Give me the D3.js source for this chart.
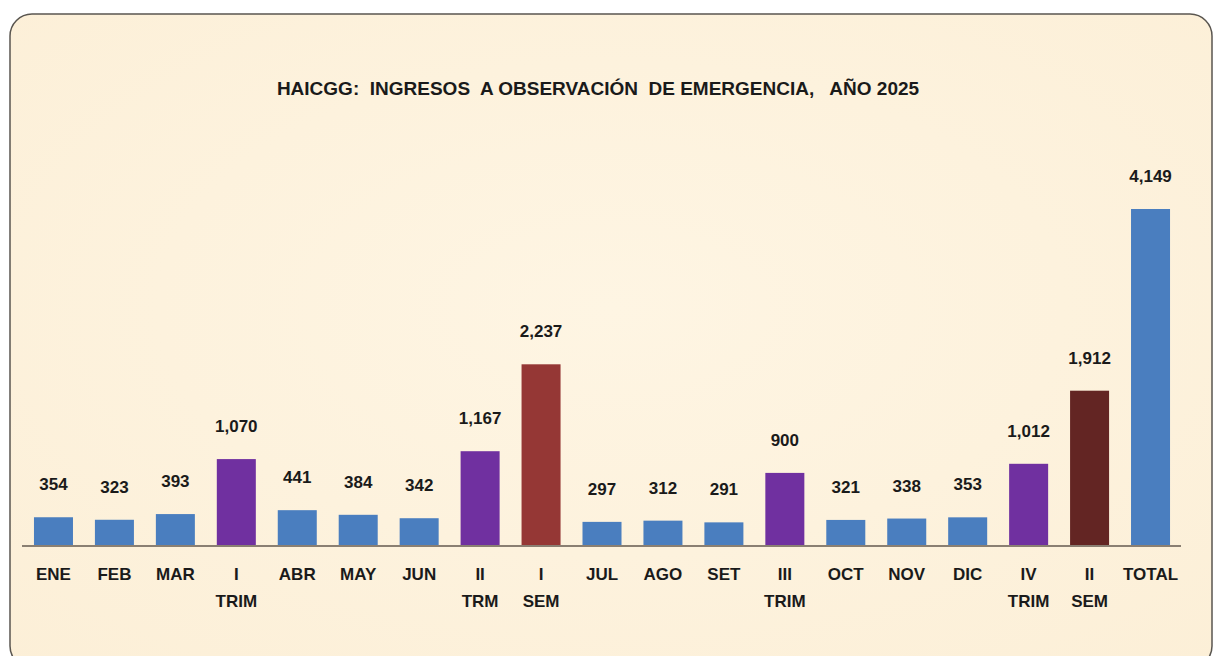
<!DOCTYPE html>
<html>
<head>
<meta charset="utf-8">
<script src="https://cdn.jsdelivr.net/npm/d3@7"></script>
<style>
  body { margin: 0; background: #fff; }
  svg { display: block; }
  text { font-family: "Liberation Sans Narrow", "Arial Narrow", sans-serif; font-weight: bold; fill: #1a1a1a; }
</style>
</head>
<body>
<svg id="chart"></svg>
<script>
// chart data
var title = "HAICGG:  INGRESOS  A OBSERVACIÓN  DE EMERGENCIA,   AÑO 2025";
var labels = ["ENE", "FEB", "MAR", "I|TRIM", "ABR", "MAY", "JUN", "II|TRM", "I|SEM",
  "JUL", "AGO", "SET", "III|TRIM", "OCT", "NOV", "DIC", "IV|TRIM", "II|SEM", "TOTAL"];
var values = [354, 323, 393, 1070, 441, 384, 342, 1167, 2237,
  297, 312, 291, 900, 321, 338, 353, 1012, 1912, 4149];
// m = month, t = trimester, s1 / s2 = semester, tot = total
var kinds = ["m", "m", "m", "t", "m", "m", "m", "t", "s1",
  "m", "m", "m", "t", "m", "m", "m", "t", "s2", "tot"];

var colors = { m: "#4a7ebf", t: "#7030a0", s1: "#953735", s2: "#632523", tot: "#4a7ebf" };

var width = 1215;
var height = 656;
var baseline = 546;

var svg = d3.select("#chart").attr("width", width).attr("height", height);

// parchment background with rounded frame
var defs = svg.append("defs");
var grad = defs.append("radialGradient").attr("id", "paper")
  .attr("cx", "50%").attr("cy", "45%").attr("r", "75%");
grad.append("stop").attr("offset", "0%").attr("stop-color", "#fef5e3");
grad.append("stop").attr("offset", "100%").attr("stop-color", "#fcefd7");

svg.append("rect")
  .attr("x", 10).attr("y", 14)
  .attr("width", 1202).attr("height", 654)
  .attr("rx", 22).attr("ry", 22)
  .attr("fill", "url(#paper)")
  .attr("stroke", "#5a5650")
  .attr("stroke-width", 1.5);

svg.append("text")
  .attr("x", 598).attr("y", 95)
  .attr("text-anchor", "middle")
  .style("font-size", "19px")
  .style("white-space", "pre")
  .attr("xml:space", "preserve")
  .text(title);

var x = d3.scaleBand()
  .domain(labels)
  .range([23, 1181])
  .paddingInner(0.36)
  .paddingOuter(0.18);

var y = d3.scaleLinear()
  .domain([0, 4149])
  .range([baseline, 209]);

var bars = labels.map(function(l, i) {
  return { label: l, value: values[i], kind: kinds[i] };
});

svg.selectAll("rect.bar")
  .data(bars)
  .enter().append("rect")
  .attr("class", "bar")
  .attr("x", function(d) { return x(d.label); })
  .attr("width", x.bandwidth())
  .attr("y", function(d) { return y(d.value); })
  .attr("height", function(d) { return baseline - y(d.value); })
  .attr("fill", function(d) { return colors[d.kind]; });

// value labels
svg.selectAll("text.val")
  .data(bars)
  .enter().append("text")
  .attr("class", "val")
  .attr("x", function(d) { return x(d.label) + x.bandwidth() / 2; })
  .attr("y", function(d) { return y(d.value) - 27; })
  .attr("text-anchor", "middle")
  .style("font-size", "17px")
  .text(function(d) { return d3.format(",")(d.value); });

// x axis
var axis = svg.append("g")
  .attr("transform", "translate(0," + baseline + ")")
  .call(d3.axisBottom(x).tickSize(0).tickFormat(""));
axis.select(".domain").attr("stroke", "#8a7f72").attr("stroke-width", 2)
  .attr("d", "M22,0H1181");

axis.selectAll(".tick").each(function(d) {
  var parts = d.split("|");
  var t = d3.select(this).append("text")
    .attr("text-anchor", "middle")
    .style("font-size", "17px")
    .attr("fill", "#1a1a1a");
  parts.forEach(function(p, i) {
    t.append("tspan").attr("x", 0).attr("y", 34 + i * 27).text(p);
  });
});
</script>
</body>
</html>
